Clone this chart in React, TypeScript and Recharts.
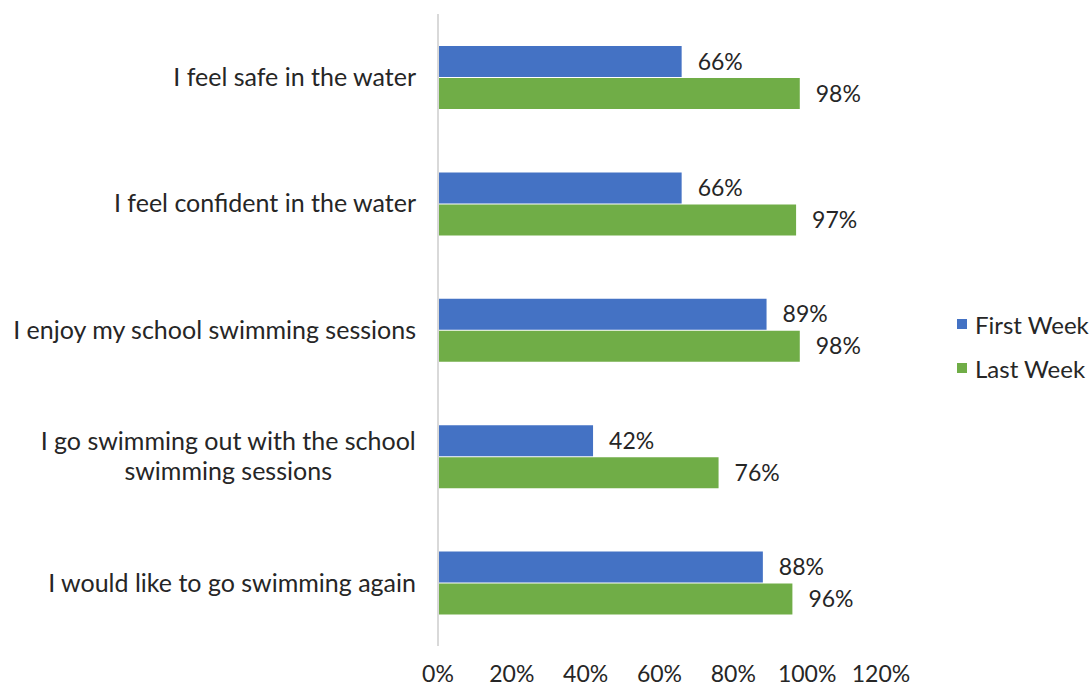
import React from 'react'
import { BarChart, Bar, XAxis, YAxis, LabelList } from 'recharts'

const categories = [
  'I feel safe in the water',
  'I feel confident in the water',
  'I enjoy my school swimming sessions',
  'I go swimming out with the school swimming sessions',
  'I would like to go swimming again',
]
const firstWeek = [66, 66, 89, 42, 88]
const lastWeek = [98, 97, 98, 76, 96]
const xTicks = [0, 20, 40, 60, 80, 100, 120]

const FONT = 'Lato, "Open Sans", sans-serif'
const TEXT = '#262626'
const BLUE = '#4472C4'
const GREEN = '#70AD47'

const data = categories.map((name, i) => ({
  name,
  first: firstWeek[i],
  last: lastWeek[i],
}))

let ctx: CanvasRenderingContext2D | null = null
const measure = (s: string, size: number) => {
  if (!ctx) ctx = document.createElement('canvas').getContext('2d')
  if (!ctx) return s.length * size * 0.5
  ctx.font = `${size}px ${FONT}`
  return ctx.measureText(s).width
}

// wrap long category names roughly like the original
const wrap = (s: string, maxChars: number) => {
  const words = s.split(' ')
  const lines: string[] = []
  let cur = ''
  words.forEach(w => {
    const next = cur ? cur + ' ' + w : w
    if (next.length > maxChars && cur) {
      lines.push(cur)
      cur = w
    } else cur = next
  })
  if (cur) lines.push(cur)
  return lines
}

const CatTick = (props: any) => {
  const { x, y, payload } = props
  const size = 25
  const lines = wrap(payload.value, 35)
  if (lines.length === 1) {
    return <text x={x} y={y} dy="0.35em" textAnchor="end" fill={TEXT} fontSize={size} fontFamily={FONT}>{payload.value}</text>
  }
  const w = Math.max(...lines.map(l => measure(l, size)))
  const cx = x - w / 2
  const lh = 30
  const top = y - ((lines.length - 1) * lh) / 2
  return <text x={cx} y={top} textAnchor="middle" fill={TEXT} fontSize={size} fontFamily={FONT}>
    {lines.map((l, i) => <tspan key={i} x={cx} y={top + i * lh} dy="0.35em">{l}</tspan>)}
  </text>
}

const pct = (v: any) => `${v}%`

const App = () => {
  return <div style={{ position: 'absolute', left: 0, top: 0, width: 1091, height: 686, background: '#fff' }}>
    <BarChart
      width={1091}
      height={686}
      data={data}
      layout="vertical"
      margin={{ top: 14, right: 210, left: 0, bottom: 0 }}
      barGap={1}
      barCategoryGap="25%"
    >
      <XAxis
        type="number"
        domain={[0, 120]}
        ticks={xTicks}
        tickFormatter={pct}
        axisLine={false}
        tickLine={false}
        tickSize={0}
        height={40}
        tickMargin={20}
        tick={{ fill: TEXT, fontSize: 23, fontFamily: FONT }}
        interval={0}
      />
      <YAxis
        type="category"
        dataKey="name"
        width={438}
        axisLine={{ stroke: '#d9d9d9', strokeWidth: 2 }}
        tickLine={false}
        tickSize={0}
        tickMargin={22}
        tick={<CatTick />}
        interval={0}
      />
      <Bar dataKey="first" fill={BLUE} barSize={31} isAnimationActive={false}>
        <LabelList dataKey="first" position="right" offset={16} formatter={pct} fill={TEXT} fontSize={23} fontFamily={FONT} />
      </Bar>
      <Bar dataKey="last" fill={GREEN} barSize={31} isAnimationActive={false}>
        <LabelList dataKey="last" position="right" offset={16} formatter={pct} fill={TEXT} fontSize={23} fontFamily={FONT} />
      </Bar>
    </BarChart>
    <div style={{ position: 'absolute', left: 957, top: 302, fontFamily: FONT, fontSize: 24, color: TEXT }}>
      {[['First Week', BLUE], ['Last Week', GREEN]].map(([label, c]) => (
        <div key={label} style={{ display: 'flex', alignItems: 'center', height: 44 }}>
          <span style={{ display: 'inline-block', width: 10, height: 10, background: c, marginRight: 8 }} />
          <span>{label}</span>
        </div>
      ))}
    </div>
  </div>
}

export default App
